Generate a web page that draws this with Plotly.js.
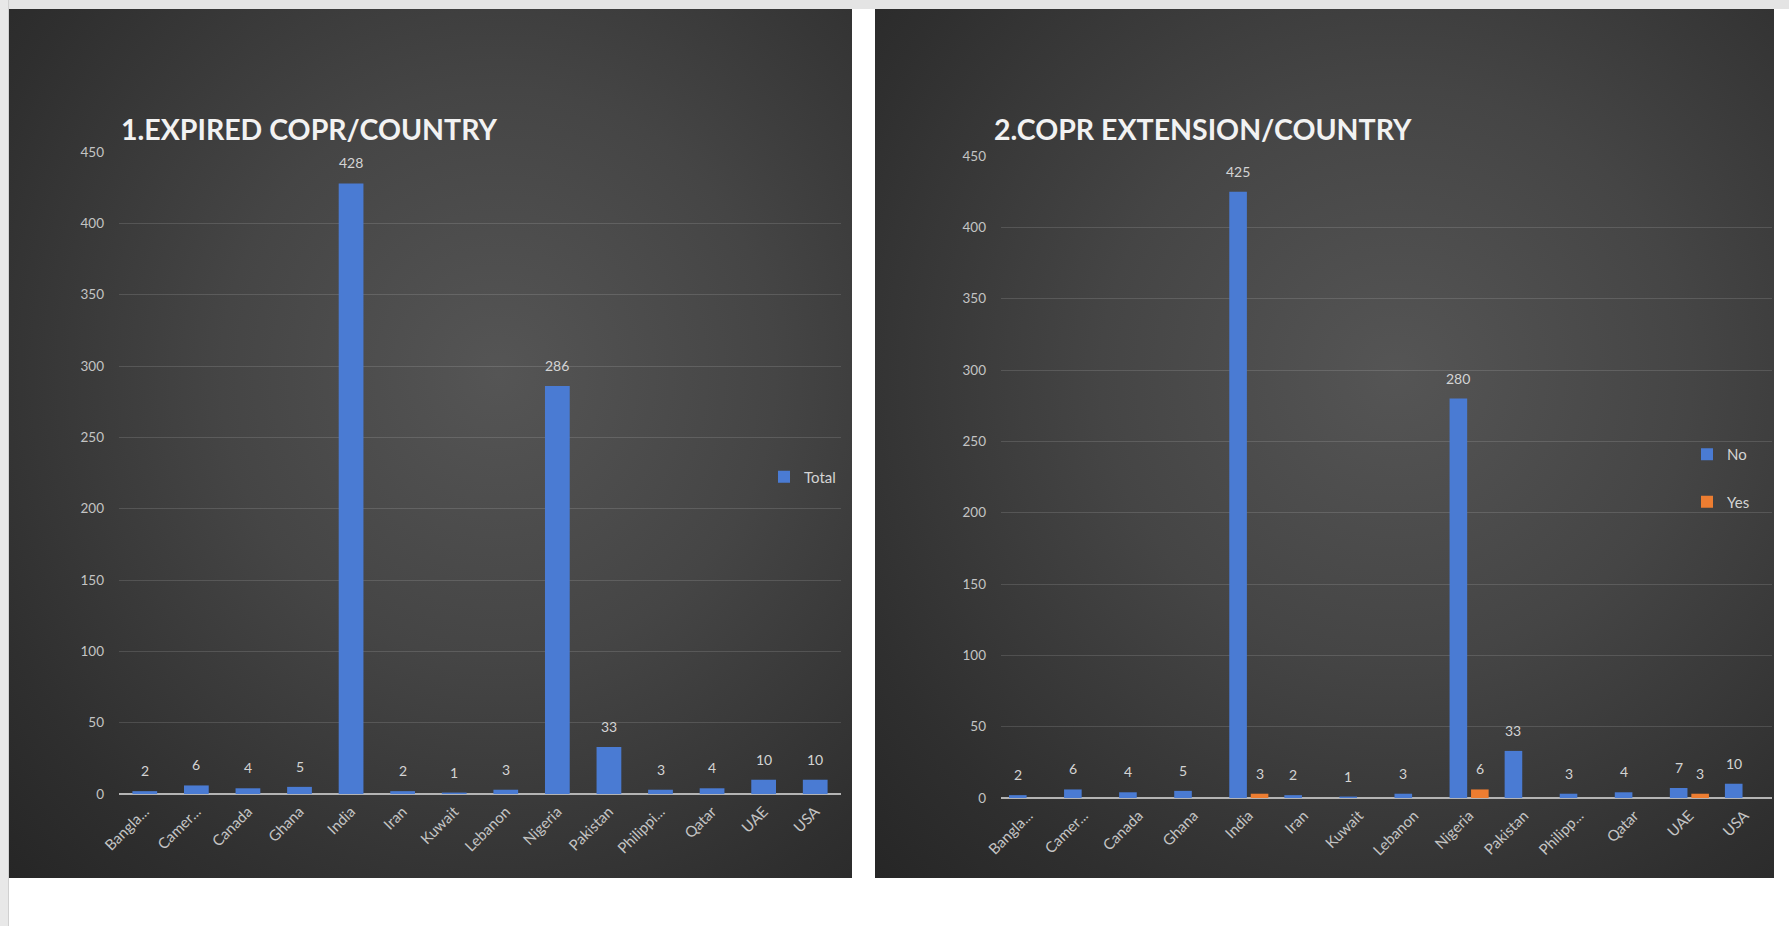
<!DOCTYPE html>
<html>
<head>
<meta charset="utf-8">
<script src="https://cdn.plot.ly/plotly-3.0.1.min.js"></script>
<style>
  html, body { margin:0; padding:0; width:1789px; height:926px; overflow:hidden; background:#ffffff; }
  #topstrip { position:absolute; left:0; top:0; width:1789px; height:9px; background:#e4e4e4; }
  #leftstrip { position:absolute; left:0; top:0; width:8px; height:926px; background:#e8e8e8; border-right:1px solid #d0d0d0; }
  .panel { position:absolute; top:9px; height:869px;
           background: radial-gradient(ellipse at 58% 42%, #555555 0%, #454545 40%, #2f2f2f 80%, #262626 100%); }
  #p1 { left:9px; width:843px; }
  #p2 { left:875px; width:899px; }
  #chart { position:absolute; left:0; top:0; width:1789px; height:926px; }
</style>
</head>
<body>
<div id="topstrip"></div>
<div id="leftstrip"></div>
<div class="panel" id="p1"></div>
<div class="panel" id="p2"></div>
<div id="chart"></div>
<script>
// ---- data ----
const categories = ["Bangladesh","Cameroon","Canada","Ghana","India","Iran","Kuwait","Lebanon","Nigeria","Pakistan","Philippines","Qatar","UAE","USA"];
const tickLabels1 = ["Bangla...","Camer...","Canada","Ghana","India","Iran","Kuwait","Lebanon","Nigeria","Pakistan","Philippi...","Qatar","UAE","USA"];
const tickLabels2 = ["Bangla...","Camer...","Canada","Ghana","India","Iran","Kuwait","Lebanon","Nigeria","Pakistan","Philipp...","Qatar","UAE","USA"];
const totalExpired = [2, 6, 4, 5, 428, 2, 1, 3, 286, 33, 3, 4, 10, 10];
const extensionNo  = [2, 6, 4, 5, 425, 2, 1, 3, 280, 33, 3, 4, 7, 10];
const extensionYes = [null, null, null, null, 3, null, null, null, 6, null, null, null, 3, null];
const title1 = "1.EXPIRED COPR/COUNTRY";
const title2 = "2.COPR EXTENSION/COUNTRY";
const yTicks = [0, 50, 100, 150, 200, 250, 300, 350, 400, 450];

// ---- styling ----
const W = 1789, H = 926;
const BLUE = "#4a7bd3", ORANGE = "#ed7d31";
const LABEL = "#d4d4d4", TICK = "#c4c4c4";
const FONT = "Lato, 'Open Sans', sans-serif";
const px = v => v / W;
const py = v => 1 - v / H;

const traces = [
  { type:"bar", x:categories, y:totalExpired, name:"Total", xaxis:"x", yaxis:"y", width:0.48,
    marker:{color:BLUE}, legend:"legend" },
  { type:"bar", x:categories, y:extensionNo, name:"No", xaxis:"x2", yaxis:"y2",
    marker:{color:BLUE}, legend:"legend2", legendgroup:"no" },
  { type:"bar", x:categories, y:extensionYes, name:"Yes", xaxis:"x2", yaxis:"y2",
    marker:{color:ORANGE}, legend:"legend2", legendgroup:"yes" }
];

const xBase = {
  type:"category", tickangle:-45, showgrid:false, showline:false, ticks:"",
  tickfont:{family:FONT, size:15, color:TICK}, ticklabelstandoff:5, fixedrange:true
};
const yBase = {
  range:[0,450], tickvals:yTicks, showgrid:true, gridcolor:"rgba(255,255,255,0.13)", gridwidth:1,
  zeroline:true, zerolinecolor:"#b4b4b4", zerolinewidth:1.5, showline:false, ticks:"",
  tickfont:{family:FONT, size:13.5, color:TICK}, ticklabelstandoff:14, fixedrange:true
};

const annotations = [];
categories.forEach((c, i) => {
  if (totalExpired[i] != null) annotations.push({
    x:c, y:totalExpired[i], xref:"x", yref:"y", text:String(totalExpired[i]),
    showarrow:false, yanchor:"bottom", yshift:10, font:{family:FONT, size:14, color:LABEL}
  });
  if (extensionNo[i] != null) annotations.push({
    x:c, y:extensionNo[i], xref:"x2", yref:"y2", text:String(extensionNo[i]),
    showarrow:false, yanchor:"bottom", yshift:10, xshift:-10.75, font:{family:FONT, size:14, color:LABEL}
  });
  if (extensionYes[i] != null) annotations.push({
    x:c, y:extensionYes[i], xref:"x2", yref:"y2", text:String(extensionYes[i]),
    showarrow:false, yanchor:"bottom", yshift:10, xshift:10.75, font:{family:FONT, size:14, color:LABEL}
  });
});
annotations.push({
  text:title1, xref:"paper", yref:"paper", x:px(119), y:py(129), xanchor:"left", yanchor:"middle",
  showarrow:false, font:{family:FONT, size:28.5, color:"#f2f2f2", weight:"bold"}
});
annotations.push({
  text:title2, xref:"paper", yref:"paper", x:px(992), y:py(129), xanchor:"left", yanchor:"middle",
  showarrow:false, font:{family:FONT, size:28.5, color:"#f2f2f2", weight:"bold"}
});

const layout = {
  width:W, height:H, margin:{l:0, r:0, t:0, b:0},
  paper_bgcolor:"rgba(0,0,0,0)", plot_bgcolor:"rgba(0,0,0,0)",
  font:{family:FONT, color:TICK},
  barmode:"group", bargap:0.22, bargroupgap:0.18,
  showlegend:true,
  xaxis: Object.assign({}, xBase, {domain:[px(119), px(841)], anchor:"y", tickvals:categories, ticktext:tickLabels1}),
  yaxis: Object.assign({}, yBase, {domain:[1 - 794/H, 1 - 152/H], anchor:"x"}),
  xaxis2: Object.assign({}, xBase, {domain:[px(1001), px(1772)], anchor:"y2", tickvals:categories, ticktext:tickLabels2}),
  yaxis2: Object.assign({}, yBase, {domain:[1 - 798/H, 1 - 156/H], anchor:"x2"}),
  legend:{x:px(764), y:py(477), xanchor:"left", yanchor:"middle", bgcolor:"rgba(0,0,0,0)",
          font:{family:FONT, size:15, color:LABEL}, itemwidth:30},
  legend2:{x:px(1687), y:py(478), xanchor:"left", yanchor:"middle", bgcolor:"rgba(0,0,0,0)",
           font:{family:FONT, size:15, color:LABEL}, itemwidth:30, traceorder:"grouped", tracegroupgap:25},
  annotations:annotations
};

Plotly.newPlot("chart", traces, layout, {displayModeBar:false, staticPlot:true});
</script>
</body>
</html>
